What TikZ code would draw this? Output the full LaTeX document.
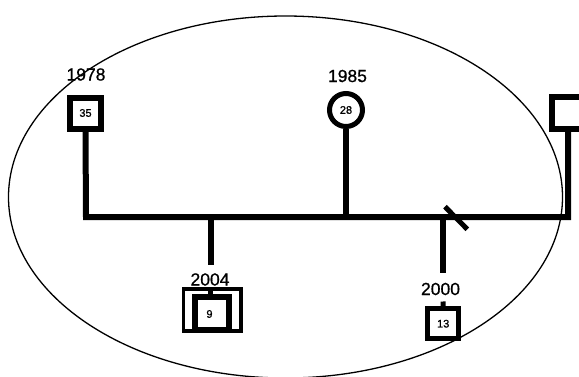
\documentclass[tikz,border=0pt]{standalone}
\usepackage{fontspec}
\setmainfont{Liberation Sans}
\newfontfamily\yearfont[FakeBold=0.8]{Liberation Sans}
\begin{document}
\begin{tikzpicture}[x=1pt,y=-1pt,
  year/.style={font=\yearfont\fontsize{17.5}{18}\selectfont, inner sep=0pt},
  age/.style={font=\yearfont\fontsize{11}{11}\selectfont, inner sep=0pt},
  malebox/.style={draw, line width=6pt, rectangle, inner sep=0pt, age},
  femalebox/.style={draw, line width=5pt, circle, minimum size=33pt, inner sep=0pt, age},
  framebox/.style={draw, line width=3.5pt, rectangle, inner sep=0pt},
  link/.style={line width=6pt}
]
\useasboundingbox (0,0) rectangle (579,376);
\clip (0,0) rectangle (579,376);

% enclosing ellipse
\draw[line width=1.3pt] (285.5,197) ellipse [x radius=277, y radius=181];

% parents
\node[year] (y1978) at (86,74.5) {1978};
\node[malebox, minimum width=31pt, minimum height=31pt] (m1) at (85.5,113) {35};
\node[year] (y1985) at (347.5,76) {1985};
\node[femalebox] (f1) at (346,110) {28};
\node[malebox, minimum width=32pt, minimum height=32pt] (m2) at (568,113) {};

% marriage line
\coordinate (hl) at (86,217);
\coordinate (hr) at (568,217);
\draw[link, line join=miter] (m1.south) -- (hl) -- (hr) -- (m2.south);
\draw[link] (f1.south) -- (f1.south |- hl);

% child 2004
\coordinate (c1top) at (210.5,217);
\coordinate (c1bot) at (210.5,265);
\draw[link] (c1top) -- (c1bot);
\node[year] (y2004) at (210,279.5) {2004};
\node[framebox, minimum width=57.7pt, minimum height=42pt] (fr) at (212.2,310) {};
\node[malebox, minimum width=34pt, minimum height=32.5pt] (k1) at (212,313.7) {};
\node[age] (a9) at (209.5,314) {9};
\draw[line width=5pt] (k1.north -| c1top) -- (fr.north -| c1top);

% child 2000
\coordinate (c2top) at (443,217);
\coordinate (c2bot) at (443,273);
\draw[link] (c2top) -- (c2bot);
\node[year] (y2000) at (440.5,289) {2000};
\node[malebox, line width=5pt, minimum width=31.5pt, minimum height=30.5pt] (k2) at (443.2,323.7) {13};
\coordinate (stubtop) at (443,301.5);
\draw[line width=5pt] (k2.north) -- (stubtop);

% separation slash
\coordinate (s1) at (445,206.7);
\coordinate (s2) at (467.3,229.3);
\draw[line width=5pt] (s1) -- (s2);
\end{tikzpicture}
\end{document}
